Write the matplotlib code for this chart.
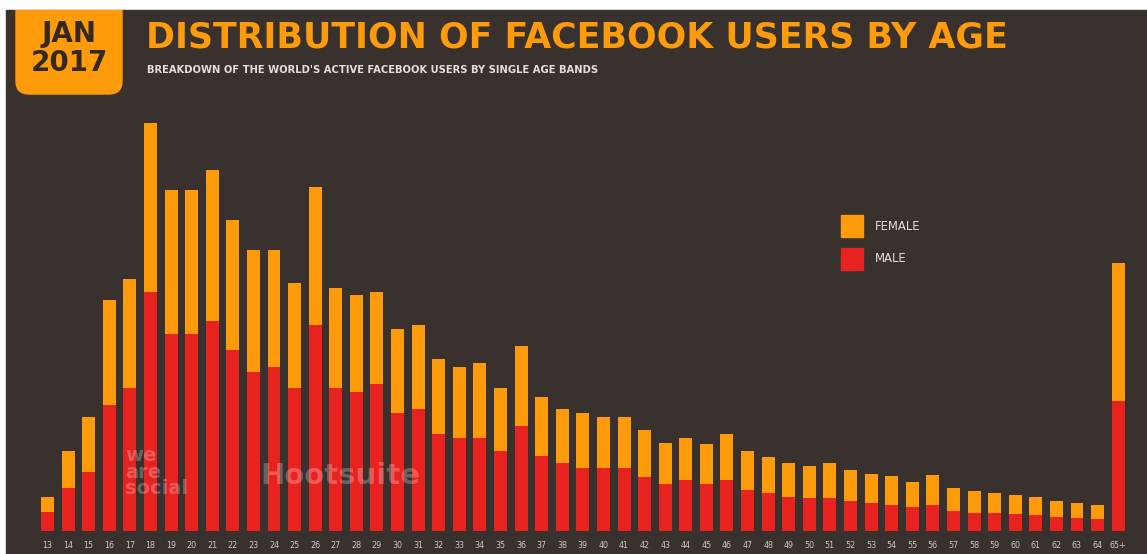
import matplotlib.pyplot as plt
from matplotlib.patches import Rectangle, FancyBboxPatch

# age bands and bar heights (arbitrary units)
ages = [str(a) for a in range(13, 65)] + ['65+']

male = [19, 43, 59, 126, 143, 239, 197, 197, 210, 181, 159, 164, 143, 206, 143, 139, 147, 118,
        122, 97, 93, 93, 80, 105, 75, 68, 63, 63, 63, 54, 47, 51, 47, 51, 41,
        38, 34, 33, 33, 30, 28, 26, 24, 26, 20, 18, 18, 17, 16, 14, 13, 12, 130]
total = [34, 80, 114, 231, 252, 408, 341, 341, 361, 311, 281, 281, 248, 344, 243, 236, 239, 202,
         206, 172, 164, 168, 143, 185, 134, 122, 118, 114, 114, 101, 88, 93, 87, 97, 80,
         74, 68, 65, 68, 61, 57, 55, 49, 56, 43, 40, 38, 36, 34, 30, 28, 26, 268]
female = [t - m for t, m in zip(total, male)]

# colours
bg_col = '#38312d'
orange = '#fd9b0a'
red = '#e8221f'
text_col = '#e3dedb'

W, H = 1147, 554
fig = plt.figure(figsize=(W / 100, H / 100), dpi=100, facecolor='white')

# background / decoration layer in pixel coordinates (origin top-left)
bg = fig.add_axes([0, 0, 1, 1])
bg.set_xlim(0, W)
bg.set_ylim(H, 0)
bg.axis('off')

panel = Rectangle((6, 10), W - 6, H - 10, color=bg_col, zorder=0)
bg.add_patch(panel)

# date badge, only the bottom corners show as rounded
badge = FancyBboxPatch((16, -20), 106, 114, boxstyle='round,pad=0,rounding_size=13',
                       color=orange, zorder=1)
bg.add_patch(badge)
badge.set_clip_path(panel)
bg.text(69, 34, 'JAN', ha='center', va='center', fontsize=20, fontweight='bold', color='#35291f')
bg.text(69, 63, '2017', ha='center', va='center', fontsize=20, fontweight='bold', color='#35291f')

bg.text(146, 38, 'DISTRIBUTION OF FACEBOOK USERS BY AGE', ha='left', va='center',
        fontsize=25, fontweight='bold', color=orange)
bg.text(147, 70, "BREAKDOWN OF THE WORLD'S ACTIVE FACEBOOK USERS BY SINGLE AGE BANDS",
        ha='left', va='center', fontsize=7.2, fontweight='bold', color=text_col)

# legend
bg.add_patch(Rectangle((841, 215), 22, 22, color=orange))
bg.add_patch(Rectangle((841, 248), 22, 22, color=red))
bg.text(875, 226, 'FEMALE', ha='left', va='center', fontsize=8.4, color=text_col)
bg.text(875, 259, 'MALE', ha='left', va='center', fontsize=8.4, color=text_col)

# bars
ax = fig.add_axes([0, 23 / H, 1, 431 / H])
ax.set_facecolor('none')
x = list(range(len(ages)))
ax.bar(x, male, width=0.63, color=red)
ax.bar(x, female, width=0.63, bottom=male, color=orange)
ax.set_xlim(-2.307, 53.40)
ax.set_ylim(0, 431)
ax.set_xticks(x)
ax.set_xticklabels(ages, fontsize=5.8, color='#cfc8c3')
ax.tick_params(axis='x', length=0, pad=7)
ax.set_yticks([])
for s in ax.spines.values():
    s.set_visible(False)

# faint watermarks over the bars
fig.text(125 / W, 1 - 472 / H, 'we\nare\nsocial', ha='left', va='center', fontsize=14,
         fontweight='bold', color='white', alpha=0.25, linespacing=0.85, zorder=5)
fig.text(260 / W, 1 - 476 / H, 'Hootsuite', ha='left', va='center', fontsize=21,
         fontweight='bold', color='white', alpha=0.25, zorder=5)

fig.savefig('out.png', dpi=100, facecolor='white')
